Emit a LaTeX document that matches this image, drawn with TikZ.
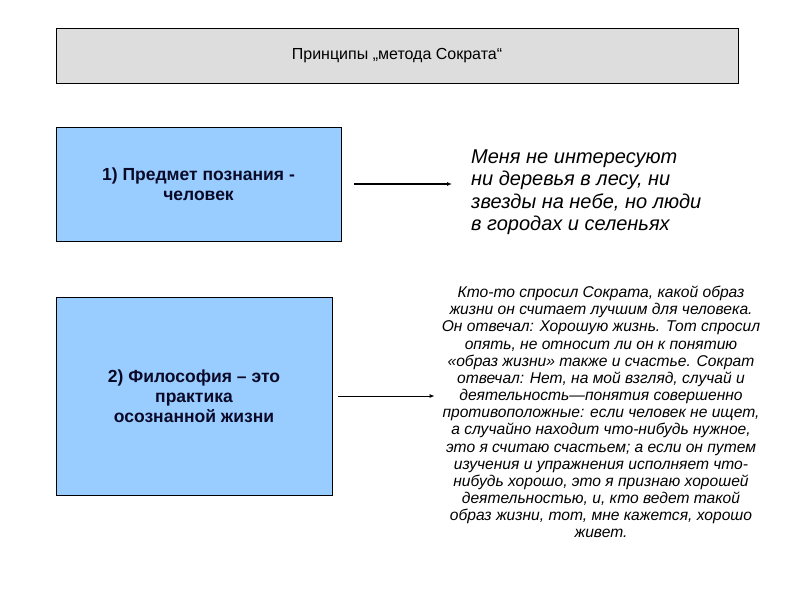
\documentclass[tikz,border=0pt]{standalone}
\usepackage{fontspec}
\setmainfont{Liberation Sans}
\usepackage{xcolor}
\usetikzlibrary{positioning,calc,arrows.meta}

\definecolor{boxblue}{HTML}{99CCFF}
\definecolor{boxgray}{HTML}{DDDDDD}
\definecolor{boxtext}{HTML}{0A0A28}

\tikzset{
    titlebox/.style={draw, fill=boxgray, line width=0.8pt, minimum width=682, minimum height=55, font=\fontsize{16}{19}\selectfont},
    ideabox/.style={draw, fill=boxblue, line width=0.6pt, align=center, text=boxtext, font=\bfseries\fontsize{17.5}{20}\selectfont},
    quote/.style={inner sep=0pt, font=\itshape}
}

\begin{document}
\begin{tikzpicture}[x=1pt, y=-1pt]
    \useasboundingbox (0,0) rectangle (794,595);

    % Title
    \node [titlebox] (title) at (397,55.5) {Принципы „метода Сократа“};

    % First principle
    \node [ideabox, minimum width=285, minimum height=114] (box1) at (198.5,184) {1) Предмет познания -\\человек};
    \node [quote, anchor=west, align=left, font=\itshape\fontsize{20}{22.5}\selectfont] (quote1) at (471,192)
        {Меня не интересуют\\ни деревья в лесу, ни\\звезды на небе, но люди\\в городах и селеньях};
    \draw [line width=1.4pt, -{Latex[length=5pt,width=4pt]}, shorten <=13, shorten >=19] (box1.east) -- (box1.east -| quote1.west);

    % Second principle
    \node [ideabox, minimum width=276, minimum height=198] (box2) at (194,396) {2) Философия – это\\практика\\осознанной жизни};
    \node [quote, align=center, font=\itshape\fontsize{15.6}{17.15}\selectfont] (quote2) at (601,412)
        {Кто-то спросил Сократа, какой образ\\жизни он считает лучшим для человека.\\Он отвечал: Хорошую жизнь. Тот спросил\\опять, не относит ли он к понятию\\«образ жизни» также и счастье. Сократ\\отвечал: Нет, на мой взгляд, случай и\\деятельность—понятия совершенно\\противоположные: если человек не ищет,\\а случайно находит что-нибудь нужное,\\это я считаю счастьем; а если он путем\\изучения и упражнения исполняет что-\\нибудь хорошо, это я признаю хорошей\\деятельностью, и, кто ведет такой\\образ жизни, тот, мне кажется, хорошо\\живет.};
    \draw [line width=1pt, -{Latex[length=5pt,width=4pt]}, shorten <=6, shorten >=7] (box2.east) -- (box2.east -| quote2.west);
\end{tikzpicture}
\end{document}
